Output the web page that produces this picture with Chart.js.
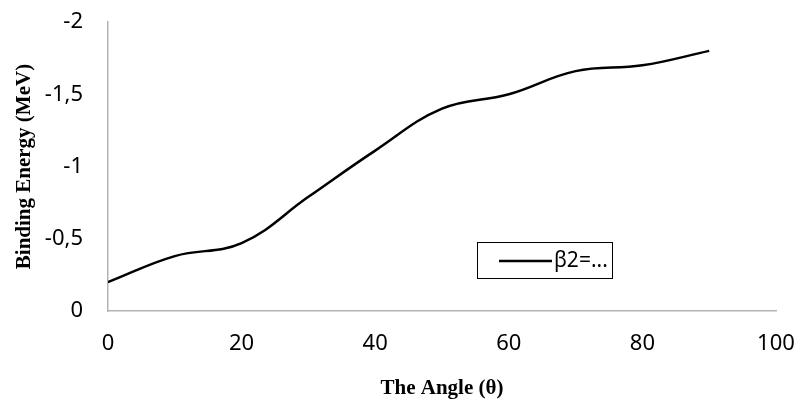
<!DOCTYPE html>
<html>
<head>
<meta charset="utf-8">
<script src="https://cdn.jsdelivr.net/npm/chart.js@4"></script>
<style>
  html, body { margin: 0; padding: 0; background: #fff; }
  #wrap { width: 806px; height: 403px; }
</style>
</head>
<body>
<div id="wrap"><canvas id="bindingChart" width="806" height="403"></canvas></div>
<script>
// Data
const angles = [0, 10, 20, 30, 40, 50, 60, 70, 80, 90];
const bindingEnergy = [-0.2, -0.38, -0.47, -0.79, -1.11, -1.40, -1.50, -1.66, -1.70, -1.80];
const seriesLabel = 'β2=...';
const yTicks = [0, -0.5, -1, -1.5, -2];
const xTicks = [0, 20, 40, 60, 80, 100];

// Legend box drawn inside the plot, Excel style
const boxLegend = {
    id: 'boxLegend',
    afterDraw(chart) {
        const ctx = chart.ctx;
        const x = 477, y = 242, w = 135, h = 36;
        ctx.save();
        ctx.fillStyle = '#fff';
        ctx.fillRect(x, y, w, h);
        ctx.strokeStyle = '#000';
        ctx.lineWidth = 1;
        ctx.strokeRect(x + 0.5, y + 0.5, w, h);
        ctx.lineWidth = 2.5;
        ctx.beginPath();
        ctx.moveTo(x + 22, y + h / 2 + 1);
        ctx.lineTo(x + 75, y + h / 2 + 1);
        ctx.stroke();
        ctx.fillStyle = '#000';
        ctx.font = '21px "Noto Sans"';
        ctx.textBaseline = 'middle';
        ctx.fillText(chart.data.datasets[0].label, x + 77, y + h / 2 + 1);
        ctx.restore();
    }
};

const ctx = document.getElementById('bindingChart').getContext('2d');
new Chart(ctx, {
    type: 'line',
    data: {
        datasets: [{
            label: seriesLabel,
            data: angles.map((a, i) => ({ x: a, y: bindingEnergy[i] })),
            borderColor: '#000',
            borderWidth: 2.5,
            pointRadius: 0,
            tension: 0.4,
            fill: false
        }]
    },
    options: {
        responsive: false,
        animation: false,
        layout: { padding: { top: 0, right: 0, left: 8, bottom: 0 } },
        plugins: {
            legend: { display: false },
            tooltip: { enabled: false }
        },
        scales: {
            x: {
                type: 'linear',
                min: 0,
                max: 100,
                afterBuildTicks: axis => { axis.ticks = xTicks.map(v => ({ value: v })); },
                afterFit: axis => {
                    axis.height = 92;
                    axis.paddingLeft = 0;
                    axis.paddingRight = 30;
                },
                grid: { display: false, drawTicks: false },
                border: { display: true, color: '#b3b3b3', width: 1.5 },
                ticks: { color: '#000', font: { family: 'Noto Sans', size: 22 }, padding: 20 },
                title: {
                    display: true,
                    text: 'The Angle (θ)',
                    color: '#000',
                    font: { family: 'Liberation Serif', size: 21, weight: 'bold' },
                    padding: { top: 18, bottom: 2 }
                }
            },
            y: {
                type: 'linear',
                reverse: true,
                min: -2,
                max: 0,
                afterBuildTicks: axis => { axis.ticks = yTicks.map(v => ({ value: v })); },
                afterFit: axis => {
                    axis.width = 100;
                    axis.paddingTop = 22;
                    axis.paddingBottom = 0;
                },
                grid: { display: false, drawTicks: false },
                border: { display: true, color: '#b3b3b3', width: 1.5 },
                ticks: {
                    color: '#000',
                    font: { family: 'Noto Sans', size: 22 },
                    padding: 25,
                    callback: v => String(v).replace('.', ',')
                },
                title: {
                    display: true,
                    text: 'Binding Energy (MeV)',
                    color: '#000',
                    font: { family: 'Liberation Serif', size: 21, weight: 'bold' },
                    padding: { top: 4, bottom: 7 }
                }
            }
        }
    },
    plugins: [boxLegend]
});
</script>
</body>
</html>
